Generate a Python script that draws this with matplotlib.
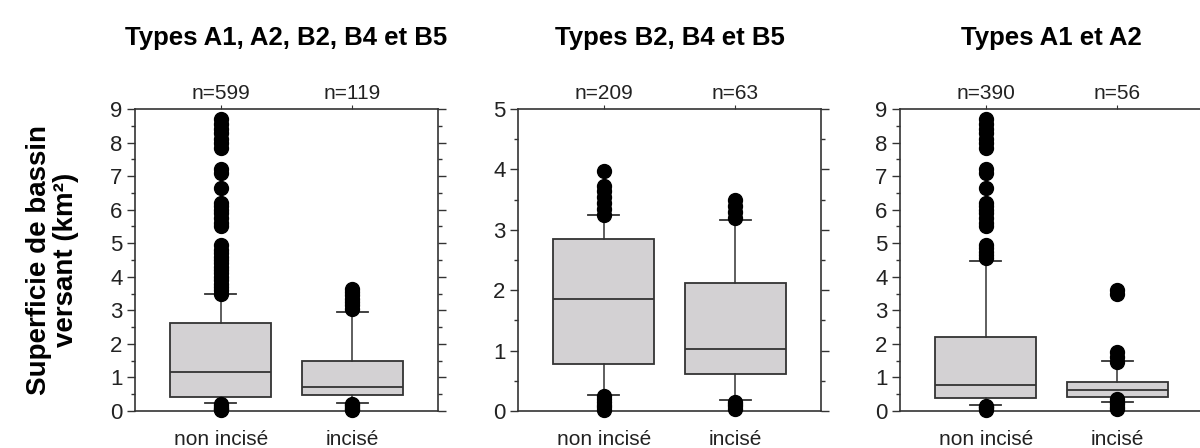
import matplotlib.pyplot as plt
from matplotlib.ticker import MultipleLocator

plt.rcParams['font.family'] = ['Liberation Sans', 'DejaVu Sans']

titles = ['Types A1, A2, B2, B4 et B5', 'Types B2, B4 et B5', 'Types A1 et A2']
groups = ['non incisé', 'incisé']
counts = [['n=599', 'n=119'], ['n=209', 'n=63'], ['n=390', 'n=56']]
ymax = [9, 5, 9]

# quartiles / whiskers: (whislo, q1, med, q3, whishi)
stats = [
    [(0.25, 0.42, 1.15, 2.62, 3.48), (0.25, 0.47, 0.72, 1.48, 2.95)],
    [(0.27, 0.77, 1.85, 2.84, 3.24), (0.18, 0.61, 1.03, 2.12, 3.16)],
    [(0.18, 0.38, 0.78, 2.20, 4.48), (0.28, 0.42, 0.62, 0.87, 1.48)],
]
fliers = [
    [[0.02, 0.06, 0.1, 0.15, 0.2, 3.5, 3.6, 3.7, 3.8, 3.9, 4.0, 4.1, 4.2, 4.3,
      4.4, 4.5, 4.6, 4.7, 4.8, 4.95, 5.5, 5.6, 5.75, 5.9, 6.0, 6.1, 6.2, 6.65,
      7.1, 7.2, 7.85, 8.0, 8.1, 8.3, 8.4, 8.55, 8.7],
     [0.02, 0.07, 0.12, 0.18, 0.22, 3.05, 3.15, 3.25, 3.35, 3.45, 3.55, 3.65]],
    [[0.02, 0.06, 0.1, 0.15, 0.2, 0.25, 3.25, 3.35, 3.45, 3.55, 3.65, 3.72, 3.98],
     [0.03, 0.08, 0.12, 0.15, 3.2, 3.3, 3.4, 3.5]],
    [[0.03, 0.08, 0.12, 0.15, 4.55, 4.65, 4.75, 4.85, 4.95, 5.5, 5.6, 5.75,
      5.9, 6.0, 6.1, 6.2, 6.65, 7.1, 7.2, 7.85, 8.0, 8.1, 8.3, 8.4, 8.55, 8.7],
     [0.05, 0.12, 0.2, 0.28, 0.35, 1.45, 1.6, 1.75, 3.5, 3.6]],
]

fig = plt.figure(figsize=(12, 4.48), dpi=100)
lefts = [0.1125, 0.4317, 0.75]
ink = '#333333'

for k in range(3):
    ax = fig.add_axes([lefts[k], 0.0826, 0.2525, 0.674])
    bxstats = []
    for j in range(2):
        lo, q1, med, q3, hi = stats[k][j]
        bxstats.append(dict(whislo=lo, q1=q1, med=med, q3=q3, whishi=hi,
                            fliers=fliers[k][j], label=groups[j]))
    parts = ax.bxp(bxstats, positions=[1, 2], widths=0.77, patch_artist=True,
                   capwidths=0.24,
                   boxprops=dict(facecolor='#d3d1d3', edgecolor=ink, linewidth=1.3),
                   medianprops=dict(color=ink, linewidth=1.3),
                   whiskerprops=dict(color=ink, linewidth=1.1),
                   capprops=dict(color=ink, linewidth=1.3),
                   flierprops=dict(marker='o', markerfacecolor='black',
                                   markeredgecolor='black', markersize=10))
    for f in parts['fliers']:
        f.set_clip_on(False)
        f.set_zorder(3)
    ax.set_xlim(0.35, 2.65)
    ax.set_ylim(0, ymax[k])
    ax.yaxis.set_major_locator(MultipleLocator(1))
    ax.yaxis.set_minor_locator(MultipleLocator(0.5))
    ax.tick_params(axis='y', which='both', left=True, right=True,
                   direction='out', colors=ink, labelsize=16, labelcolor='#222222')
    ax.tick_params(axis='y', which='major', length=6, width=1, pad=3)
    ax.tick_params(axis='y', which='minor', length=3, width=1)
    ax.tick_params(axis='x', length=0, pad=14, labelsize=15, labelcolor='#222222')
    for s in ax.spines.values():
        s.set_color(ink)
        s.set_linewidth(1.2)
    top = ax.secondary_xaxis('top')
    top.set_xticks([1, 2], labels=counts[k])
    top.tick_params(length=3, color=ink, pad=1, labelsize=15, labelcolor='#222222')
    top.spines['top'].set_visible(False)
    ax.set_title(titles[k], fontsize=18.5, fontweight='bold', pad=46)
    if k == 0:
        ax.set_ylabel('Superficie de bassin\nversant (km²)', fontsize=20,
                      fontweight='bold', labelpad=22, linespacing=1.05)

fig.savefig('out.png', dpi=100)
